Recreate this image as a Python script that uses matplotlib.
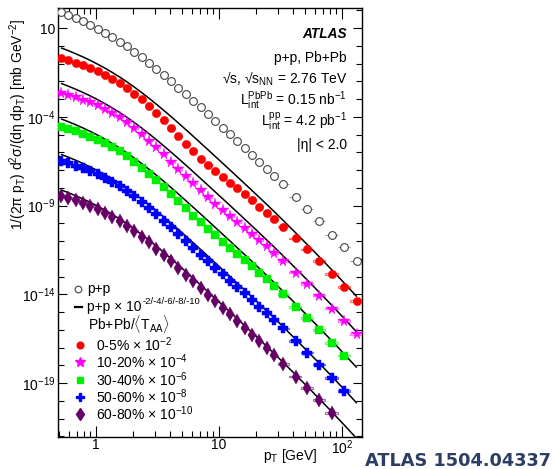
import numpy as np
import matplotlib
matplotlib.use('Agg')
import matplotlib.pyplot as plt
from matplotlib.patches import Rectangle
from matplotlib.ticker import FixedLocator, FixedFormatter, NullFormatter

plt.rcParams['font.family'] = ['Liberation Sans', 'DejaVu Sans']
plt.rcParams['mathtext.fontset'] = 'custom'
plt.rcParams['mathtext.rm'] = 'Liberation Sans'
plt.rcParams['mathtext.it'] = 'Liberation Sans:italic'
plt.rcParams['mathtext.bf'] = 'Liberation Sans:bold'

# ---------------- data ----------------
pt = [0.519, 0.596, 0.683, 0.784, 0.900, 1.032, 1.185, 1.359, 1.560, 1.790, 2.053, 2.356,
      2.703, 3.102, 3.559, 4.084, 4.686, 5.376, 6.169, 7.078, 8.121, 9.318, 10.69, 12.27,
      14.08, 16.15, 18.53, 21.26, 24.40, 28.0, 33.0, 42.0, 52.0, 65.0, 83.0, 104.0, 132.0]

# log10 of invariant yield
pp_log = [1.885, 1.725, 1.554, 1.372, 1.175, 0.964, 0.738, 0.496, 0.239, -0.037, -0.330, -0.638,
          -0.959, -1.294, -1.638, -1.993, -2.355, -2.723, -3.096, -3.472, -3.850, -4.230, -4.611, -4.993,
          -5.377, -5.761, -6.148, -6.538, -6.931, -7.328, -7.814, -8.535, -9.184, -9.870, -10.634, -11.354, -12.133]

c0_5_log = [-0.695, -0.825, -0.956, -1.098, -1.255, -1.436, -1.642, -1.864, -2.111, -2.387, -2.690, -3.018,
            -3.379, -3.774, -4.188, -4.623, -5.075, -5.513, -5.946, -6.352, -6.710, -7.050, -7.381, -7.713,
            -8.037, -8.361, -8.708, -9.058, -9.411, -9.768, -10.184, -10.855, -11.474, -12.130, -12.874, -13.594, -14.363]

c10_20_log = [-2.655, -2.775, -2.896, -3.028, -3.185, -3.356, -3.562, -3.784, -4.031, -4.317, -4.630, -4.978,
              -5.339, -5.714, -6.118, -6.543, -6.955, -7.363, -7.756, -8.152, -8.530, -8.890, -9.241, -9.593,
              -9.927, -10.251, -10.588, -10.928, -11.291, -11.668, -12.104, -12.775, -13.404, -14.070, -14.804, -15.494, -16.253]

c30_40_log = [-4.565, -4.685, -4.816, -4.958, -5.115, -5.286, -5.482, -5.704, -5.951, -6.227, -6.530, -6.858,
              -7.209, -7.584, -7.968, -8.363, -8.765, -9.163, -9.566, -9.952, -10.310, -10.670, -11.031, -11.393,
              -11.737, -12.071, -12.418, -12.778, -13.161, -13.548, -13.984, -14.695, -15.324, -16.010, -16.754, -17.454]

c50_60_log = [-6.505, -6.625, -6.756, -6.898, -7.055, -7.236, -7.432, -7.654, -7.901, -8.167, -8.460, -8.778,
              -9.119, -9.474, -9.848, -10.233, -10.615, -11.003, -11.386, -11.772, -12.140, -12.500, -12.861, -13.223,
              -13.577, -13.931, -14.298, -14.688, -15.071, -15.458, -15.924, -16.645, -17.284, -17.960, -18.734, -19.434]

c60_80_log = [-8.455, -8.575, -8.706, -8.848, -9.015, -9.196, -9.402, -9.624, -9.871, -10.137, -10.430, -10.748,
              -11.079, -11.424, -11.778, -12.143, -12.515, -12.893, -13.266, -13.642, -14.020, -14.390, -14.761, -15.133,
              -15.507, -15.881, -16.268, -16.658, -17.051, -17.448, -17.914, -18.635, -19.284, -19.960, -20.704]

line_exps = [-2, -4, -6, -8, -10]

series_labels = [r'0-5% × 10$^{-2}$', r'10-20% × 10$^{-4}$', r'30-40% × 10$^{-6}$',
                 r'50-60% × 10$^{-8}$', r'60-80% × 10$^{-10}$']
ytick_vals = [1e1, 1e-4, 1e-9, 1e-14, 1e-19]
ytick_labels = ['10', r'10$^{-4}$', r'10$^{-9}$', r'10$^{-14}$', r'10$^{-19}$']
xtick_vals = [1, 10, 100]
xtick_labels = ['1', '10', r'10$^{2}$']

# ---------------- figure ----------------
W, H = 555, 469
fig = plt.figure(figsize=(W / 100, H / 100), dpi=100)
L, R, T, B = 58, 362, 8, 437
ax = fig.add_axes([L / W, 1 - B / H, (R - L) / W, (B - T) / H])
ax.set_xscale('log')
ax.set_yscale('log')
ax.set_xlim(0.491, 145.5)
ax.set_ylim(10 ** -22.04, 10 ** 2.13)

pt_a = np.array(pt)
lpt = np.log10(pt_a)
mid = 10 ** ((lpt[1:] + lpt[:-1]) / 2)
lo_edge = np.concatenate([[pt_a[0] ** 2 / mid[0]], mid])
hi_edge = np.concatenate([mid, [pt_a[-1] ** 2 / mid[-1]]])

pp = 10 ** np.array(pp_log)

# reference lines (pp scaled)
for e in line_exps:
    ax.plot(pt_a, pp * 10.0 ** e, color='black', lw=1.1, zorder=2, solid_capstyle='butt')

# pp points
ax.errorbar(pt_a, pp, xerr=[pt_a - lo_edge, hi_edge - pt_a], fmt='none',
            ecolor='#9a9a9a', elinewidth=0.8, zorder=3)
ax.plot(pt_a, pp, 'o', ms=5.6, mfc='white', mec='#444444', mew=0.8, zorder=4, ls='none')

styles = [
    dict(marker='o', color='#ff0000', ms=6.0),
    dict(marker='*', color='#ff00ff', ms=8.5),
    dict(marker='s', color='#00ee00', ms=5.6),
    dict(marker='P', color='#0000ff', ms=7.0),
    dict(marker='d', color='#660066', ms=7.2),
]
series = [c0_5_log, c10_20_log, c30_40_log, c50_60_log, c60_80_log]
for s_log, st in zip(series, styles):
    n = len(s_log)
    y = 10 ** np.array(s_log)
    x = pt_a[:n]
    for i in range(n):
        ax.add_patch(Rectangle((lo_edge[i], y[i] / 1.12), hi_edge[i] - lo_edge[i],
                               y[i] * 1.12 - y[i] / 1.12, fill=False,
                               edgecolor=st['color'], alpha=0.55, lw=0.9, zorder=3))
    ax.plot(x, y, ls='none', marker=st['marker'], ms=st['ms'], color=st['color'],
            mec=st['color'], mew=0.3, zorder=5)

# ticks
ax.yaxis.set_major_locator(FixedLocator(ytick_vals))
ax.yaxis.set_major_formatter(FixedFormatter(ytick_labels))
yminor = [10.0 ** k for k in range(-22, 3) if 10.0 ** k not in ytick_vals]
ax.yaxis.set_minor_locator(FixedLocator(yminor))
ax.yaxis.set_minor_formatter(NullFormatter())
ax.xaxis.set_major_locator(FixedLocator(xtick_vals))
ax.xaxis.set_major_formatter(FixedFormatter(xtick_labels))
xminor = [m * 10.0 ** k for k in (-1, 0, 1) for m in range(2, 10) if 0.49 < m * 10.0 ** k < 145]
ax.xaxis.set_minor_locator(FixedLocator(xminor))
ax.xaxis.set_minor_formatter(NullFormatter())
ax.tick_params(which='both', direction='in', top=True, right=True, width=0.8, labelsize=10)
ax.tick_params(axis='x', which='major', length=8, pad=1)
ax.tick_params(axis='x', which='minor', length=4)
ax.tick_params(axis='y', which='major', length=6.5, pad=2)
ax.tick_params(axis='y', which='minor', length=4)
for sp in ax.spines.values():
    sp.set_linewidth(1.0)


def px(x, y):
    return x / W, 1 - y / H


def axp(x, y):
    return (x - L) / (R - L), (B - y) / (B - T)


# axis titles
fig.text(*px(18, 19), r'1/(2π p$_{\rm T}$) d$^{2}$σ/(dη dp$_{\rm T}$) [mb GeV$^{-2}$]',
         rotation=90, ha='center', va='top', fontsize=10)
fig.text(*px(317, 456), r'p$_{\rm T}$ [GeV]', ha='right', va='center', fontsize=10)

# labels top right
fig.text(*px(347, 38), 'ATLAS', ha='right', va='baseline', fontsize=9.8,
         fontweight='bold', fontstyle='italic')
fig.text(*px(347, 62), 'p+p, Pb+Pb', ha='right', va='baseline', fontsize=10)
fig.text(*px(347, 84), r'√s, √s$_{\rm NN}$ = 2.76 TeV', ha='right', va='baseline', fontsize=10)
fig.text(*px(347, 105), r'$\mathrm{L}_{\mathrm{int}}^{\mathrm{PbPb}}$ = 0.15 nb$^{-1}$',
         ha='right', va='baseline', fontsize=10)
fig.text(*px(347, 127), r'$\mathrm{L}_{\mathrm{int}}^{\mathrm{pp}}$ = 4.2 pb$^{-1}$',
         ha='right', va='baseline', fontsize=10)
fig.text(*px(347, 149), '|η| < 2.0', ha='right', va='baseline', fontsize=10)

# legend (manual)
tr = ax.transAxes
ax.plot(*axp(78, 289), 'o', ms=4.8, mfc='white', mec='#444444', mew=0.8, transform=tr, clip_on=False)
ax.text(*axp(87, 289), 'p+p', transform=tr, ha='left', va='center', fontsize=10)
x0, y0 = axp(75, 307)
x1, _ = axp(82, 307)
ax.plot([x0, x1], [y0, y0], color='black', lw=1.6, transform=tr, clip_on=False)
t_main = ax.text(*axp(87, 311), 'p+p × 10', transform=tr, ha='left', va='baseline', fontsize=10)
fig.canvas.draw()
bb = t_main.get_window_extent(renderer=fig.canvas.get_renderer())
sup_x = bb.x1 + 1
ax.text((sup_x - L) / (R - L), (B - 304) / (B - T), '-2/-4/-6/-8/-10', transform=tr,
        ha='left', va='baseline', fontsize=6.8)
ax.text(*axp(88, 324), r'Pb+Pb/$\langle\mathrm{T}_{\mathrm{AA}}\rangle$', transform=tr,
        ha='left', va='center', fontsize=10)
leg_y = [345, 362, 380, 397, 414]
leg_ms = [4.8, 7.5, 4.5, 6.0, 6.0]
for lab, st, yy, ms in zip(series_labels, styles, leg_y, leg_ms):
    ax.plot(*axp(80, yy), ls='none', marker=st['marker'], ms=ms, color=st['color'],
            transform=tr, clip_on=False)
    ax.text(*axp(96, yy), lab, transform=tr, ha='left', va='center', fontsize=10)

# source tag
fig.text(*px(365, 466), 'ATLAS 1504.04337', ha='left', va='baseline', fontsize=12.8,
         fontweight='bold', color='#2c3e64', family='DejaVu Sans')

fig.savefig('out.png', dpi=100)
